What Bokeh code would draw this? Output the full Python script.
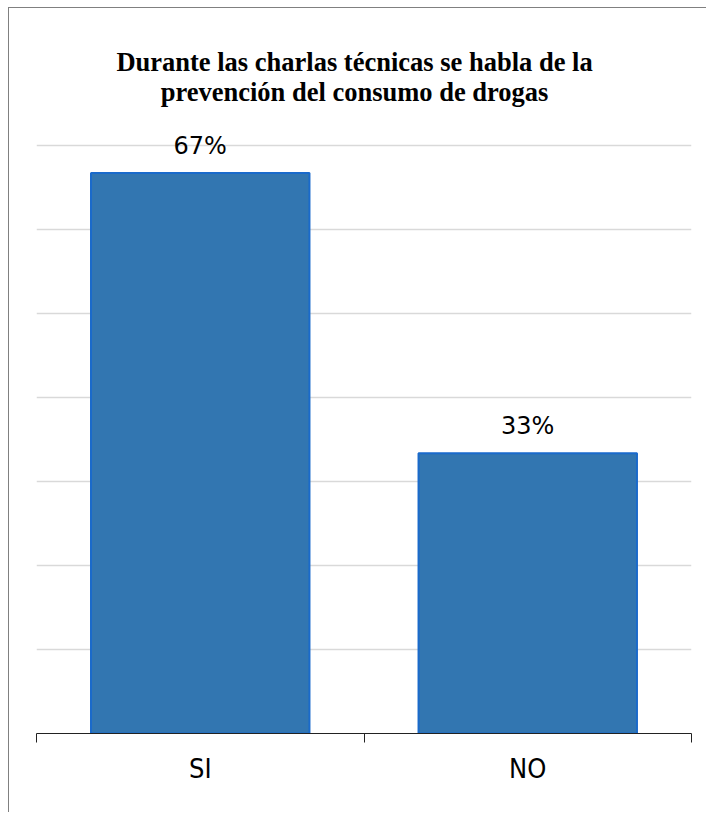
from bokeh.plotting import figure
from bokeh.models import Range1d, FixedTicker, ColumnDataSource, Label
from bokeh.core.properties import value
from bokeh.embed import file_html
from bokeh.resources import INLINE

categories = ["SI", "NO"]
values = [0.6667, 0.3333]
labels = ["67%", "33%"]
title_lines = ["Durante las charlas técnicas se habla de la",
               "prevención del consumo de drogas"]
grid_ticks = [0.0, 0.1, 0.2, 0.3, 0.4, 0.5, 0.6, 0.7]

xs = [i + 0.5 for i in range(len(categories))]
src = ColumnDataSource(dict(x=xs, top=values, label=labels))

# frame spans page y 8..733 ; 0.7 sits at y=144.5
y_max = 0.7 * 725 / 588.5

p = figure(width=698, height=805, output_backend="svg", toolbar_location=None,
           x_range=Range1d(0, len(categories)), y_range=Range1d(0, y_max),
           min_border_left=27, min_border_right=16, min_border_top=0, min_border_bottom=80,
           margin=(7, 0, 0, 8),
           styles={"border-left": "1px solid #808080", "border-top": "1px solid #808080"})
p.outline_line_color = None
p.background_fill_color = "white"
p.border_fill_color = "white"

p.vbar(x="x", top="top", width=0.667, bottom=0, source=src,
       fill_color="#3276b1", line_color="#1a6acb", line_width=2)

p.text(x="x", y="top", text="label", source=src, text_align="center",
       text_baseline="alphabetic", y_offset=-27,
       text_font=value("DejaVu Sans"), text_font_size="24px", text_color="#000000")

p.yaxis.visible = False
p.ygrid.ticker = FixedTicker(ticks=grid_ticks)
p.ygrid.grid_line_color = "#d9d9d9"
p.ygrid.grid_line_width = 1.5
p.xgrid.visible = False

ax = p.xaxis[0]
ax.ticker = FixedTicker(ticks=xs, minor_ticks=list(range(len(categories) + 1)))
ax.major_label_overrides = {x: c for x, c in zip(xs, categories)}
ax.major_tick_out = 0
ax.major_tick_in = 0
ax.minor_tick_out = 9
ax.minor_tick_in = 0
ax.minor_tick_line_color = "#222222"
ax.axis_line_color = "#222222"
ax.axis_line_width = 1.2
ax.major_label_text_font = "DejaVu Sans Condensed"
ax.major_label_text_font_size = "27px"
ax.major_label_text_color = "#000000"
ax.major_label_standoff = 10

for i, line in enumerate(title_lines):
    p.add_layout(Label(x=0.971, y=(733 - 62 - 30 * i) / 840.7, text=line,
                       text_align="center", text_baseline="alphabetic",
                       text_font="Liberation Serif", text_font_style="bold",
                       text_font_size="26.5px", text_color="#000000"))

open("out.html", "w").write(file_html(p, INLINE))
